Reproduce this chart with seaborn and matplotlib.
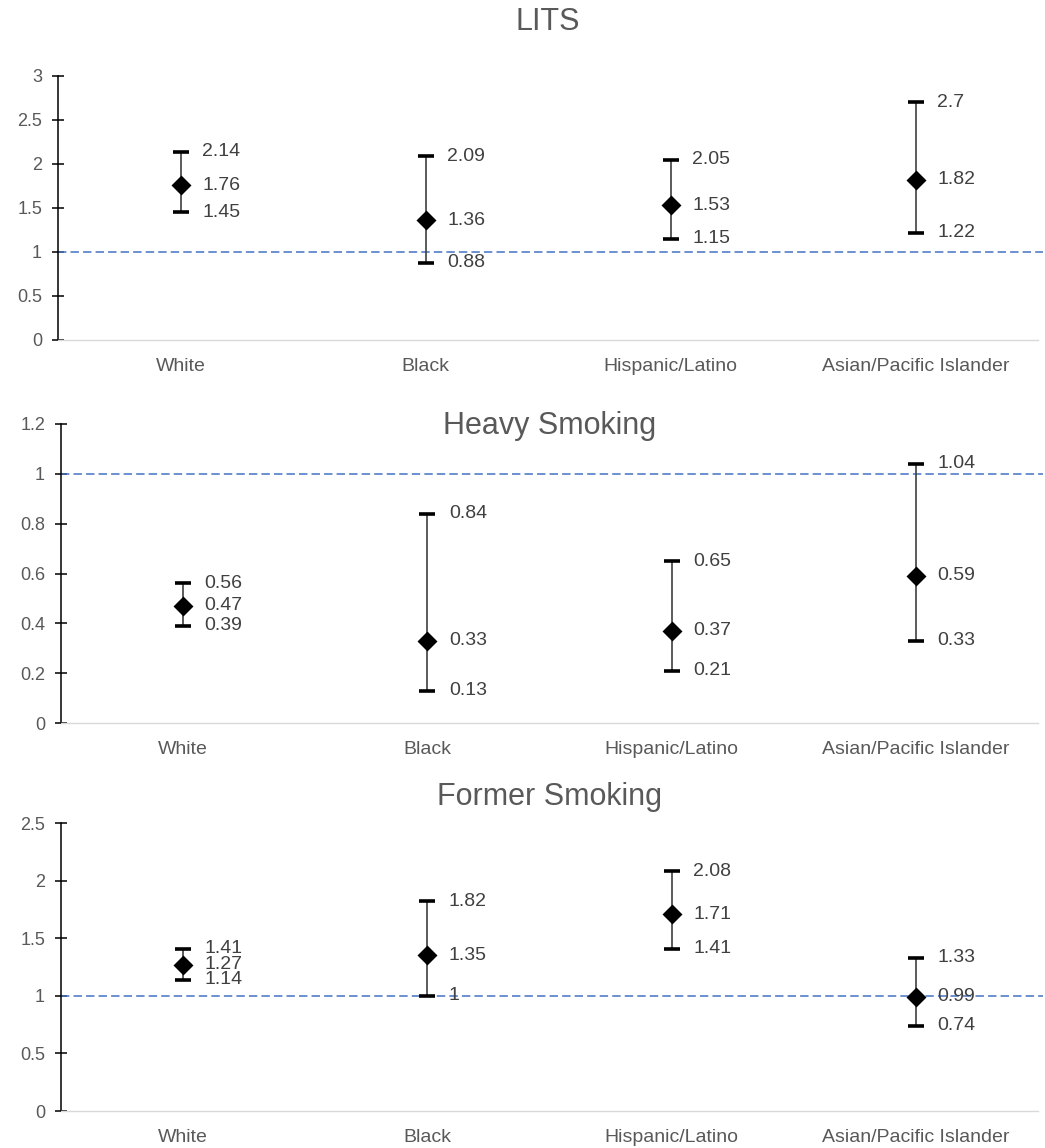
import numpy as np
import pandas as pd
import matplotlib
matplotlib.use("Agg")
import matplotlib.pyplot as plt
import seaborn as sns
from matplotlib.ticker import MultipleLocator, FuncFormatter

# odds ratios with 95% CI per group, one block per panel
groups = ["White", "Black", "Hispanic/Latino", "Asian/Pacific Islander"]
titles = ["LITS", "Heavy Smoking", "Former Smoking"]

lits_est = [1.76, 1.36, 1.53, 1.82]
lits_low = [1.45, 0.88, 1.15, 1.22]
lits_high = [2.14, 2.09, 2.05, 2.70]

heavy_est = [0.47, 0.33, 0.37, 0.59]
heavy_low = [0.39, 0.13, 0.21, 0.33]
heavy_high = [0.56, 0.84, 0.65, 1.04]

former_est = [1.27, 1.35, 1.71, 0.99]
former_low = [1.14, 1.00, 1.41, 0.74]
former_high = [1.41, 1.82, 2.08, 1.33]

y_max = [3, 1.2, 2.5]
y_step = [0.5, 0.2, 0.5]

sns.set_theme(style="white")
plt.rcParams["font.family"] = ["Liberation Sans", "DejaVu Sans"]

W, H = 1045, 1148
fig = plt.figure(figsize=(W / 100, H / 100), dpi=100)

# panel boxes in pixels: left, top, bottom ; title centre y
boxes = [(58, 76, 340), (61, 424, 723), (61, 823, 1111)]
title_y = [22, 426, 797]
right_px = 1038

GRAY = "#595959"
LABEL = "#404040"


def long_form(est, low, high):
    rows = []
    for g, e, lo, hi in zip(groups, est, low, high):
        for v in (lo, e, hi):
            rows.append({"group": g, "value": v})
    return pd.DataFrame(rows)


panels = [
    (lits_est, lits_low, lits_high),
    (heavy_est, heavy_low, heavy_high),
    (former_est, former_low, former_high),
]

for k, (est, low, high) in enumerate(panels):
    left, top, bottom = boxes[k]
    ax = fig.add_axes([left / W, 1 - bottom / H, (right_px - left) / W, (bottom - top) / H])
    df = long_form(est, low, high)

    # median of (low, est, high) is the estimate, full percentile range is the CI
    sns.pointplot(
        data=df, x="group", y="value", order=groups,
        estimator="median", errorbar=("pi", 100),
        color="black", marker="D", markersize=8.5, linestyle="none",
        capsize=0, err_kws={"color": "#404040", "linewidth": 1.2, "zorder": 3},
        ax=ax, zorder=5,
    )
    xs = np.arange(len(groups))
    for vals in (low, high):
        sns.scatterplot(x=xs, y=vals, marker="_", s=135, linewidth=2.6,
                        color="black", ax=ax, zorder=4, legend=False)

    for i in range(len(groups)):
        for v in (low[i], est[i], high[i]):
            ax.annotate(f"{v:g}", (i, v), xytext=(15.5, 0), textcoords="offset points",
                        ha="left", va="center", fontsize=14, color=LABEL, zorder=6)

    ax.axhline(1, color="#4472C4", linestyle=(0, (5.5, 2.7)), linewidth=1.1,
               zorder=2, xmax=1.005, clip_on=False)

    ax.set_xlim(-0.5, len(groups) - 0.5)
    ax.set_ylim(0, y_max[k])
    ax.yaxis.set_major_locator(MultipleLocator(y_step[k]))
    ax.yaxis.set_major_formatter(FuncFormatter(lambda v, p: f"{v:g}"))
    ax.set_xlabel("")
    ax.set_ylabel("")

    sns.despine(ax=ax)
    ax.spines["left"].set_color("black")
    ax.spines["left"].set_linewidth(1.1)
    ax.spines["bottom"].set_color("#d9d9d9")
    ax.spines["bottom"].set_linewidth(1.0)
    ax.tick_params(axis="y", direction="inout", length=8, width=1.1, color="black",
                   labelsize=13, labelcolor=GRAY, pad=7.5, left=True)
    ax.tick_params(axis="x", length=0, labelsize=14, labelcolor=GRAY, pad=13)

    fig.text(((left + right_px) / 2) / W, 1 - title_y[k] / H, titles[k],
             ha="center", va="center", fontsize=22, color=GRAY)

fig.savefig("out.png", dpi=100)
